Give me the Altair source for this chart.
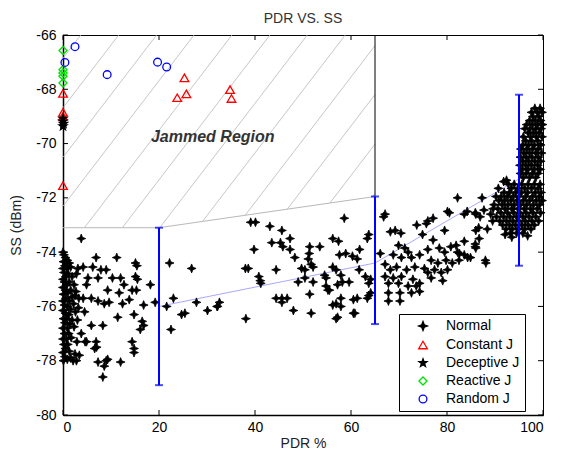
import altair as alt
import pandas as pd

# ---------------- data ----------------
series_names = ["Normal", "Constant J", "Deceptive J", "Reactive J", "Random J"]

# Normal traffic: (PDR %, SS dBm)
normal_low_pdr = [
    (0.0, -74.0), (0.2, -74.1), (0.5, -74.2), (0.9, -74.3), (0.1, -74.35), (1.3, -74.4), (0.4, -74.5),
    (0.0, -74.6), (0.8, -74.6), (1.6, -74.55), (0.2, -74.75), (1.1, -74.8), (0.6, -74.9), (0.0, -75.0),
    (1.9, -74.9), (0.3, -75.1), (1.3, -75.1), (0.8, -75.2), (0.0, -75.3), (2.3, -75.2), (0.5, -75.4),
    (1.6, -75.4), (0.1, -75.55), (1.0, -75.5), (2.7, -75.45), (0.6, -75.7), (1.9, -75.65), (0.0, -75.8),
    (1.3, -75.8), (0.3, -75.95), (2.2, -75.9), (0.9, -76.0), (0.0, -76.15), (1.6, -76.1), (0.5, -76.25),
    (1.2, -76.3), (2.6, -76.2), (0.1, -76.45), (0.8, -76.45), (1.9, -76.5), (0.4, -76.6), (1.4, -76.65),
    (0.0, -76.8), (0.9, -76.8), (2.3, -76.75), (0.3, -77.0), (1.2, -77.0), (0.0, -77.2), (0.7, -77.2),
    (1.7, -77.15), (0.2, -77.4), (1.0, -77.4), (0.5, -77.55), (0.0, -77.7), (1.3, -77.65), (0.4, -77.85),
    (0.9, -77.95), (0.1, -78.0), (1.6, -77.9), (2.1, -78.0), (3.0, -76.5), (3.3, -75.7), (3.1, -74.6),
    (2.9, -77.3), (3.4, -77.8),
    (3.8, -73.5), (6.9, -74.2), (11.2, -74.2), (15.1, -74.4), (15.4, -74.5), (22.2, -74.4), (4.2, -74.55),
    (6.2, -74.55), (7.9, -74.65), (9.0, -74.65), (2.8, -74.8), (5.2, -74.95), (7.3, -74.95), (10.3, -74.95),
    (12.0, -74.95), (15.1, -74.9), (15.5, -75.0), (18.2, -75.2), (12.7, -75.2), (4.9, -75.2), (9.3, -75.4),
    (14.4, -75.4), (15.3, -75.4), (11.7, -75.5), (2.5, -75.6), (4.2, -75.7), (5.9, -75.7), (7.3, -75.8),
    (8.6, -75.9), (9.6, -75.85), (12.4, -75.9), (13.8, -75.75), (16.8, -75.95), (19.2, -75.85), (21.6, -76.0),
    (23.0, -75.7), (24.7, -76.3), (3.2, -76.05), (4.5, -76.2), (11.4, -76.4), (14.8, -76.3), (5.9, -76.7),
    (8.3, -76.7), (16.8, -76.7), (16.5, -76.55), (16.1, -76.85), (22.5, -76.85), (3.8, -77.0), (4.9, -77.3),
    (6.9, -77.3), (6.6, -77.55), (14.4, -77.3), (14.8, -77.55), (14.8, -77.7), (2.5, -77.75), (2.8, -78.0),
    (7.3, -78.05), (9.0, -78.0), (9.3, -77.95), (8.6, -78.2), (12.0, -78.05), (8.3, -78.6), (7.0, -77.5),
    (4.6, -77.3),
]
normal_mid_pdr = [
    (27.8, -75.85), (25.4, -76.25), (30.1, -76.15), (32.1, -76.0), (32.6, -75.85), (38.1, -76.45),
    (44.4, -75.7), (45.6, -75.7), (46.7, -75.7), (48.0, -76.15), (26.8, -74.6), (38.0, -74.6), (38.6, -74.6),
    (39.8, -73.9), (39.1, -72.9), (40.1, -72.9), (43.1, -73.05), (45.6, -73.2), (43.5, -73.65), (45.3, -73.65),
    (47.3, -73.5), (41.1, -75.05), (41.2, -75.15), (40.8, -74.9), (58.6, -72.75), (45.8, -73.8), (47.3, -73.9),
    (48.3, -74.2), (51.4, -73.8), (53.5, -73.8), (51.3, -74.05), (51.1, -74.25), (51.7, -74.45), (52.1, -74.55),
    (56.2, -73.5), (57.4, -73.6), (57.6, -74.1), (58.9, -74.05), (60.3, -74.15), (61.3, -74.25), (61.8, -73.9),
    (63.4, -73.5), (63.7, -73.35), (44.4, -74.65), (49.7, -74.6), (50.4, -74.65), (49.0, -75.1), (50.4, -74.95),
    (52.1, -75.1), (54.5, -74.85), (54.8, -74.95), (56.2, -74.55), (56.9, -74.65), (57.9, -74.85), (58.2, -75.1),
    (59.6, -75.1), (54.8, -75.25), (55.5, -75.4), (57.2, -75.2), (61.7, -74.65), (63.0, -74.9), (64.1, -75.0),
    (63.7, -75.15), (64.1, -75.5), (63.4, -75.7), (61.3, -75.7), (45.6, -75.85), (51.4, -75.55), (32.2, -76.0),
    (51.7, -76.25), (56.2, -75.95), (57.9, -76.0), (56.9, -76.45), (60.5, -76.25), (55.2, -75.4), (57.9, -75.7),
    (60.5, -75.75), (63.7, -75.6), (57.2, -76.4), (60.8, -76.25), (56.9, -75.9),
]
normal_high_pdr = [
    (67.8, -75.5), (67.8, -75.8), (70.2, -75.5), (70.2, -75.8), (72.6, -75.5), (74.3, -75.45), (67.1, -72.6),
    (66.8, -72.7), (80.5, -72.55), (84.2, -72.5), (86.9, -72.7), (73.7, -73.0), (75.7, -72.95), (77.1, -72.75),
    (68.2, -73.25), (69.2, -73.2), (70.4, -73.3), (74.9, -73.35), (79.5, -73.2), (77.1, -73.55), (66.1, -74.05),
    (69.9, -73.75), (71.2, -73.85), (71.9, -74.0), (68.8, -74.1), (70.5, -74.2), (72.6, -74.2), (74.3, -74.1),
    (76.0, -73.9), (78.4, -73.85), (79.5, -74.0), (80.8, -73.8), (82.2, -74.0), (83.6, -74.1), (84.9, -74.2),
    (85.9, -73.8), (76.7, -74.3), (78.1, -74.4), (79.8, -74.3), (81.1, -74.4), (82.5, -74.3), (67.1, -74.45),
    (68.2, -74.65), (69.5, -74.55), (71.6, -74.65), (73.3, -74.55), (75.3, -74.6), (76.0, -74.75), (77.4, -74.65),
    (78.8, -74.75), (80.1, -74.65), (67.1, -74.9), (68.8, -74.95), (70.5, -74.9), (72.9, -75.0), (74.3, -75.15),
    (76.7, -74.95), (79.1, -75.05), (67.8, -75.15), (69.9, -75.15), (71.9, -75.25), (73.6, -75.25),
    (82.2, -72.0), (87.3, -72.0), (83.6, -72.6), (86.0, -72.6), (87.7, -72.45), (80.1, -72.5), (76.0, -72.85),
    (88.4, -73.15), (86.0, -73.2), (86.7, -73.5), (88.1, -74.4), (86.0, -73.85), (84.3, -74.2), (81.9, -73.75),
    (82.6, -74.05), (85.9, -72.55), (86.6, -73.1), (85.9, -73.7), (88.0, -74.3), (83.6, -73.6), (92.1, -73.35),
    (91.8, -71.4), (92.4, -71.35), (89.1, -72.6), (89.5, -72.85), (89.6, -72.4),
]
normal_cluster_low = [
    (92.8, -71.5), (94.0, -71.5), (95.6, -71.5), (96.9, -71.5), (98.2, -71.5), (99.4, -71.5),
    (90.7, -71.65), (93.4, -71.65), (94.8, -71.65), (96.2, -71.65), (97.6, -71.65), (99.0, -71.65),
    (91.9, -71.8), (93.0, -71.8), (94.3, -71.8), (95.5, -71.8), (96.8, -71.8), (98.4, -71.8), (99.6, -71.8),
    (90.2, -71.95), (91.3, -71.95), (92.6, -71.95), (93.8, -71.95), (95.0, -71.95), (96.4, -71.95), (97.8, -71.95), (99.2, -71.95),
    (90.8, -72.1), (92.0, -72.1), (93.3, -72.1), (94.6, -72.1), (95.9, -72.1), (97.2, -72.1), (98.6, -72.1), (99.8, -72.1),
    (89.8, -72.25), (91.5, -72.25), (92.7, -72.25), (94.0, -72.25), (95.3, -72.25), (96.6, -72.25), (98.0, -72.25), (99.3, -72.25),
    (90.6, -72.4), (92.1, -72.4), (93.5, -72.4), (94.8, -72.4), (96.1, -72.4), (97.4, -72.4), (98.8, -72.4),
    (91.2, -72.55), (92.6, -72.55), (93.9, -72.55), (95.2, -72.55), (96.5, -72.55), (97.9, -72.55), (99.5, -72.55),
    (90.3, -72.7), (91.8, -72.7), (93.1, -72.7), (94.5, -72.7), (95.8, -72.7), (97.1, -72.7), (98.5, -72.7),
    (91.0, -72.85), (92.4, -72.85), (93.7, -72.85), (95.0, -72.85), (96.3, -72.85), (97.7, -72.85), (99.1, -72.85),
    (91.6, -73.0), (93.0, -73.0), (94.3, -73.0), (95.6, -73.0), (96.9, -73.0), (98.2, -73.0),
    (92.3, -73.15), (93.6, -73.15), (94.9, -73.15), (96.2, -73.15), (97.5, -73.15),
    (93.2, -73.3), (94.5, -73.3), (95.8, -73.3), (93.5, -73.45), (96.8, -73.4),
]
normal_cluster_high = [
    (98.3, -68.7), (99.4, -68.7), (97.6, -68.85), (98.8, -68.85), (99.8, -68.85), (97.9, -69.0), (99.1, -69.0),
    (97.2, -69.15), (98.4, -69.15), (99.5, -69.15), (96.6, -69.3), (97.8, -69.3), (98.9, -69.3), (99.9, -69.3),
    (96.2, -69.45), (97.3, -69.45), (98.5, -69.45), (99.6, -69.45), (96.9, -69.6), (98.0, -69.6), (99.2, -69.6),
    (95.9, -69.75), (97.4, -69.75), (98.6, -69.75), (99.8, -69.75), (96.4, -69.9), (97.6, -69.9), (98.9, -69.9),
    (95.8, -70.05), (97.0, -70.05), (98.2, -70.05), (99.5, -70.05), (95.4, -70.2), (96.6, -70.2), (97.8, -70.2), (99.0, -70.2),
    (96.0, -70.35), (97.2, -70.35), (98.5, -70.35), (99.7, -70.35), (95.3, -70.5), (96.5, -70.5), (97.7, -70.5), (99.0, -70.5),
    (95.8, -70.65), (97.0, -70.65), (98.3, -70.65), (99.5, -70.65), (95.2, -70.8), (96.4, -70.8), (97.6, -70.8), (98.9, -70.8),
    (95.7, -70.95), (96.9, -70.95), (98.2, -70.95), (99.4, -70.95), (95.3, -71.1), (96.5, -71.1), (97.8, -71.1), (99.0, -71.1),
    (95.9, -71.25), (97.2, -71.25), (98.5, -71.25),
]

constant_pts = [(0.0, -68.15), (0.0, -68.85), (0.0, -69.0), (0.0, -71.55), (25.3, -67.58),
                (23.8, -68.31), (25.7, -68.17), (34.8, -68.01), (35.1, -68.34)]
deceptive_pts = [(0.0, -69.08), (0.0, -69.18), (0.1, -69.27), (0.0, -69.36)]
reactive_pts = [(0.0, -66.57), (0.0, -67.28), (0.0, -67.4), (0.0, -67.52), (0.0, -67.77)]
random_pts = [(2.5, -66.43), (0.4, -67.01), (9.2, -67.46), (19.7, -67.0), (21.6, -67.18)]

# mean / spread of normal SS at three PDR levels
err_pdr = [20, 65, 95]
err_mean = [-76.0, -74.4, -71.3]
err_low = [-78.9, -76.65, -74.5]
err_high = [-73.1, -71.95, -68.2]

# jammed region lower boundary
region_pdr = [0, 20, 65]
region_ss = [-73.1, -73.1, -71.95]
region_top = -66.0
hatch_top_pdr = [3.7, 11.6, 19.5, 27.3, 35.2, 43.1, 50.9, 58.8, 66.7, 74.5, 82.4, 90.3]
hatch_slope = 0.231  # SS units per PDR unit

x_ticks = [0, 20, 40, 60, 80, 100]
y_ticks = [-80, -78, -76, -74, -72, -70, -68, -66]

# ---------------- build tables ----------------
FONT = "Liberation Sans"
W, H = 480, 380

normal_all = normal_low_pdr + normal_mid_pdr + normal_high_pdr + normal_cluster_low + normal_cluster_high
normal_df = pd.DataFrame(normal_all, columns=["pdr", "ss"])
normal_df["series"] = "Normal"

jam_rows = []
for name, pts in [("Constant J", constant_pts), ("Deceptive J", deceptive_pts),
                  ("Reactive J", reactive_pts), ("Random J", random_pts)]:
    for p, s in pts:
        jam_rows.append({"pdr": p, "ss": s, "series": name})
jam_df = pd.DataFrame(jam_rows)

err_df = pd.DataFrame({"pdr": err_pdr, "mean": err_mean, "low": err_low, "high": err_high})
region_df = pd.DataFrame({"pdr": region_pdr, "ss": region_ss})

k2 = (region_ss[2] - region_ss[1]) / (region_pdr[2] - region_pdr[1])


def bottom(x):
    if x <= region_pdr[1]:
        return region_ss[0]
    return region_ss[1] + k2 * (x - region_pdr[1])


hatch_rows = []
xr = region_pdr[-1]
for x0 in hatch_top_pdr:
    def line(x, x0=x0):
        return region_top - hatch_slope * (x0 - x)
    if x0 <= xr:
        ux, uy = x0, region_top
    else:
        ux, uy = xr, line(xr)
        if uy <= bottom(xr):
            continue
    xb = x0 - (region_top - region_ss[0]) / hatch_slope
    if xb < 0:
        lx, ly = 0.0, line(0.0)
    elif xb <= region_pdr[1]:
        lx, ly = xb, region_ss[0]
    else:
        lx = (hatch_slope * x0 - (region_top - region_ss[1]) - k2 * region_pdr[1]) / (hatch_slope - k2)
        ly = line(lx)
    hatch_rows.append({"x": lx, "y": ly, "x2": ux, "y2": uy})
hatch_df = pd.DataFrame(hatch_rows)

label_df = pd.DataFrame({"text": ["Jammed Region"], "pdr": [31.2], "ss": [-69.74]})

xs = alt.Scale(domain=[0, 100], nice=False, zero=False)
ys = alt.Scale(domain=[-80, -66], nice=False, zero=False)

normal_shape = "M0,-1L0.28,-0.28L1,0L0.28,0.28L0,1L-0.28,0.28L-1,0L-0.28,-0.28Z"
small_star = "M0,-1L0.24,-0.33L0.95,-0.31L0.38,0.12L0.59,0.81L0,0.4L-0.59,0.81L-0.38,0.12L-0.95,-0.31L-0.24,-0.33Z"

legend = alt.Legend(orient="none", legendX=336, legendY=279, title=None,
                    strokeColor="black", fillColor="white", padding=5,
                    labelFont=FONT, labelFontSize=14, labelColor="black",
                    symbolOffset=12, labelOffset=16, rowPadding=4, symbolStrokeWidth=1.3)

enc = dict(
    x=alt.X("pdr:Q", scale=xs),
    y=alt.Y("ss:Q", scale=ys),
    shape=alt.Shape("series:N", scale=alt.Scale(domain=series_names,
                    range=[normal_shape, "triangle-up", small_star, "diamond", "circle"]), legend=legend),
    fill=alt.Fill("series:N", scale=alt.Scale(domain=series_names,
                  range=["black", "transparent", "black", "transparent", "transparent"]), legend=legend),
    stroke=alt.Stroke("series:N", scale=alt.Scale(domain=series_names,
                      range=["black", "#ff0000", "black", "#00e000", "#0000ff"]), legend=legend),
    size=alt.Size("series:N", scale=alt.Scale(domain=series_names, range=[80, 60, 40, 45, 45]), legend=legend),
)

hatch = alt.Chart(hatch_df).mark_rule(color="#b8b8b8", strokeWidth=0.8).encode(
    x=alt.X("x:Q", scale=xs, axis=alt.Axis(values=x_ticks, tickSize=0, labelPadding=5, labelFont=FONT,
                                            labelFontSize=14, labelColor="black", labelExpr="'' + datum.value",
                                            domainColor="black", domainWidth=1.5, grid=False, title="PDR %",
                                            titleFont=FONT, titleFontSize=14, titleFontWeight="normal",
                                            titleColor="#222", titlePadding=2)),
    y=alt.Y("y:Q", scale=ys, axis=alt.Axis(values=y_ticks, tickSize=0, labelPadding=7, labelFont=FONT,
                                            labelFontSize=14, labelColor="black", labelExpr="'' + datum.value",
                                            domainColor="black", domainWidth=1.5, grid=False, title="SS (dBm)",
                                            titleFont=FONT, titleFontSize=14, titleFontWeight="normal",
                                            titleColor="#222", titlePadding=12)),
    x2="x2:Q", y2="y2:Q",
)

boundary = alt.Chart(region_df).mark_line(color="#b8b8b8", strokeWidth=1).encode(
    x=alt.X("pdr:Q", scale=xs), y=alt.Y("ss:Q", scale=ys))

edge_df = pd.DataFrame({"pdr": [region_pdr[-1]], "ss": [region_ss[-1]], "top": [region_top]})
edge = alt.Chart(edge_df).mark_rule(color="black", strokeWidth=1).encode(
    x=alt.X("pdr:Q", scale=xs), y=alt.Y("ss:Q", scale=ys), y2="top:Q")

mean_line = alt.Chart(err_df).mark_line(color="#a8a8ff", strokeWidth=1).encode(
    x=alt.X("pdr:Q", scale=xs), y=alt.Y("mean:Q", scale=ys))

normal_layer = alt.Chart(normal_df).mark_point(filled=True, opacity=1, strokeWidth=0.8).encode(**enc)

err_rule = alt.Chart(err_df).mark_rule(color="#0000ff", strokeWidth=2).encode(
    x=alt.X("pdr:Q", scale=xs), y=alt.Y("low:Q", scale=ys), y2="high:Q")
cap_lo = alt.Chart(err_df).mark_tick(color="#0000ff", orient="horizontal", size=8, thickness=2).encode(
    x=alt.X("pdr:Q", scale=xs), y=alt.Y("low:Q", scale=ys))
cap_hi = alt.Chart(err_df).mark_tick(color="#0000ff", orient="horizontal", size=8, thickness=2).encode(
    x=alt.X("pdr:Q", scale=xs), y=alt.Y("high:Q", scale=ys))

jam_layer = alt.Chart(jam_df).mark_point(filled=True, opacity=1, strokeWidth=1.3).encode(**enc)

label = alt.Chart(label_df).mark_text(font=FONT, fontSize=16, fontWeight="bold", fontStyle="italic",
                                      color="#333").encode(
    x=alt.X("pdr:Q", scale=xs), y=alt.Y("ss:Q", scale=ys), text="text:N")

# inward ticks on all four sides
xt_df = pd.DataFrame({"v": x_ticks})
yt_df = pd.DataFrame({"v": y_ticks})
tb = alt.Chart(xt_df).mark_rule(color="black", strokeWidth=1).encode(
    x=alt.X("v:Q", scale=xs), y=alt.value(H), y2=alt.value(H - 5))
tt = alt.Chart(xt_df).mark_rule(color="black", strokeWidth=1).encode(
    x=alt.X("v:Q", scale=xs), y=alt.value(0), y2=alt.value(5))
tl = alt.Chart(yt_df).mark_rule(color="black", strokeWidth=1).encode(
    y=alt.Y("v:Q", scale=ys), x=alt.value(0), x2=alt.value(5))
tr = alt.Chart(yt_df).mark_rule(color="black", strokeWidth=1).encode(
    y=alt.Y("v:Q", scale=ys), x=alt.value(W), x2=alt.value(W - 5))

chart = alt.layer(
    hatch, boundary, edge, mean_line, normal_layer, err_rule, cap_lo, cap_hi, jam_layer, label,
    tb, tt, tl, tr,
).properties(
    width=W, height=H,
    title=alt.TitleParams("PDR  VS. SS", font=FONT, fontSize=14, fontWeight="normal", color="#333",
                          offset=2, frame="group"),
    autosize=alt.AutoSizeParams(type="none"),
    padding={"left": 55, "top": 27, "right": 12, "bottom": 34},
).configure_view(stroke="black", strokeWidth=1).configure_axis(ticks=False)

chart.save("out.html", embed_options={"renderer": "svg", "actions": False})
